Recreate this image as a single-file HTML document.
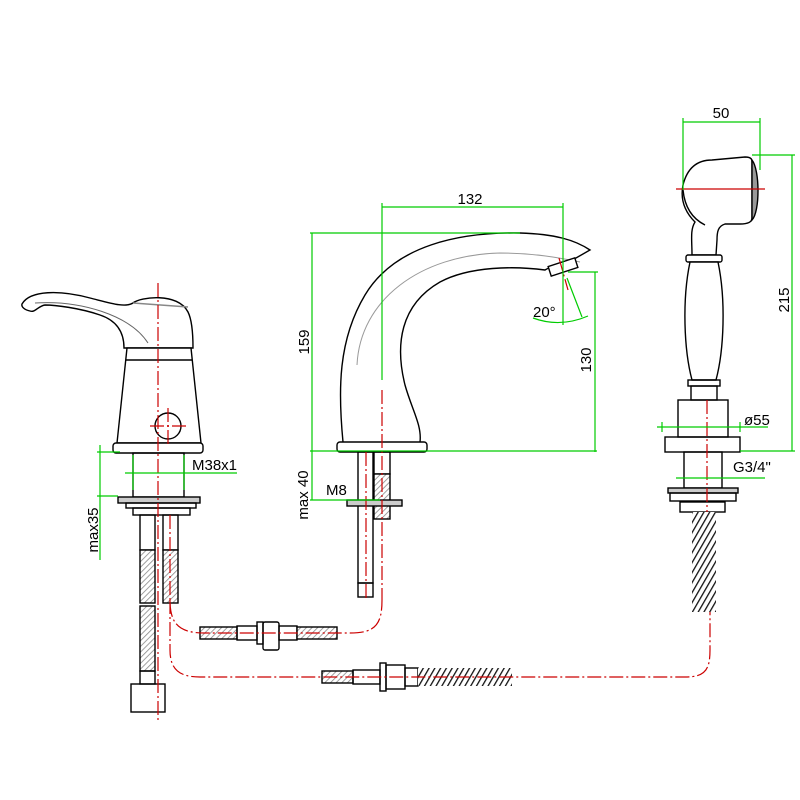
<!DOCTYPE html>
<html><head><meta charset="utf-8"><style>
html,body{margin:0;padding:0;background:#fff}
svg{display:block}
text{font-family:"Liberation Sans",sans-serif;font-size:15px;fill:#000}
</style></head><body>
<svg width="800" height="800" viewBox="0 0 800 800" xmlns="http://www.w3.org/2000/svg">
<defs>
<pattern id="h" width="4" height="4" patternUnits="userSpaceOnUse" patternTransform="rotate(45)">
<rect width="4" height="4" fill="#fff"/><line x1="0" y1="0" x2="0" y2="4" stroke="#888" stroke-width="1.6"/></pattern>
<pattern id="sp" width="5" height="5" patternUnits="userSpaceOnUse" patternTransform="rotate(30)">
<rect width="5" height="5" fill="#fff"/><line x1="0" y1="0" x2="0" y2="5" stroke="#111" stroke-width="2.6"/></pattern>
</defs>
<g fill="none" stroke="#000" stroke-width="1.4">
<!-- LEFT MIXER -->
<path d="M22,304 C30,290 60,290 90,298 C110,303 125,308 133,303 C140,297 178,292 188,312 C192,320 193,335 193,348 L124,348 C124,330 115,320 100,315 C80,308 55,305 45,305 C38,306 35,313 30,311 C25,310 21,307 22,304Z" fill="#fff"/>
<path d="M35,303 C80,300 130,315 148,343" stroke="#666" stroke-width="1"/>
<path d="M133,303 L188,307" stroke="#888"/>
<path d="M127,348 L117,443 L201,443 L191,348 Z" fill="#fff"/>
<line x1="126" y1="360" x2="192" y2="360"/>
<circle cx="168" cy="426" r="13"/>
<rect x="113" y="443" width="90" height="10" rx="3" fill="#fff"/>
<rect x="133" y="453" width="51" height="44"/>
<rect x="118" y="497" width="82" height="6" fill="#ccc"/>
<rect x="126" y="503" width="70" height="5"/>
<rect x="133" y="508" width="57" height="7"/>
<rect x="140" y="515" width="15" height="35"/>
<rect x="163" y="515" width="15" height="35"/>
<rect x="140" y="550" width="15" height="53" fill="url(#h)"/>
<rect x="163" y="550" width="15" height="53" fill="url(#h)"/>
<rect x="140" y="606" width="15" height="65" fill="url(#h)"/>
<rect x="140" y="671" width="15" height="13"/>
<rect x="131" y="684" width="34" height="28"/>
<!-- SPOUT -->
<path d="M343,442 C338,390 338,340 365,295 C395,245 460,232 520,233 C555,234 575,240 590,250 L576,258 C555,265 548,268 545,270 C515,266 470,266 440,282 C400,305 395,345 405,385 C412,410 422,425 420,442" fill="#fff"/>
<path d="M357,365 C360,300 420,255 500,253 C535,253 560,258 580,262" stroke="#999" stroke-width="1"/>
<rect x="549" y="262" width="28" height="10" transform="rotate(-18 563 267)" fill="#fff"/>
<rect x="337" y="442" width="90" height="10" rx="3" fill="#fff"/>
<rect x="358" y="452" width="15" height="131"/>
<rect x="358" y="583" width="15" height="14"/>
<rect x="374" y="452" width="16" height="22"/>
<rect x="374" y="474" width="16" height="45" fill="url(#h)"/>
<rect x="347" y="500" width="55" height="6" fill="#ccc"/>
<!-- HAND SHOWER -->
<path d="M692,255 C692,240 690,230 695,222 C685,212 680,200 683,185 C688,165 700,160 712,160 L745,157 C752,157 752,160 752,162 L752,218 C752,222 748,224 740,224 L725,224 C718,226 717,232 717,240 L716,255 Z" fill="#fff"/>
<path d="M752,160 C760,170 760,212 752,220 Z" fill="#999"/>
<path d="M683,190 C685,210 695,220 705,225"/>
<rect x="686" y="255" width="36" height="7" rx="2" fill="#fff"/>
<path d="M690,262 C682,300 684,350 692,380 L716,380 C724,350 726,300 718,262 Z" fill="#fff"/>
<rect x="688" y="380" width="32" height="6"/>
<rect x="691" y="386" width="26" height="14"/>
<rect x="678" y="400" width="50" height="37"/>
<rect x="665" y="437" width="75" height="15"/>
<rect x="684" y="452" width="38" height="36"/>
<rect x="668" y="488" width="70" height="5" fill="#ccc"/>
<rect x="670" y="493" width="66" height="8"/>
<rect x="680" y="502" width="45" height="10"/>
<rect x="692" y="512" width="24" height="100" fill="url(#sp)" stroke="none"/>
<!-- hoses -->
<rect x="200" y="627" width="37" height="12" fill="url(#h)"/>
<rect x="237" y="626" width="20" height="14"/>
<rect x="257" y="622" width="6" height="22"/>
<rect x="263" y="622" width="16" height="28" rx="2"/>
<rect x="279" y="626" width="18" height="14"/>
<rect x="297" y="627" width="40" height="12" fill="url(#h)"/>
<rect x="322" y="671" width="31" height="12" fill="url(#h)"/>
<rect x="353" y="670" width="27" height="14"/>
<rect x="380" y="663" width="6" height="28"/>
<rect x="386" y="665" width="19" height="24"/>
<rect x="405" y="668" width="13" height="18"/>
<rect x="418" y="668" width="94" height="18" fill="url(#sp)" stroke="none"/>
</g>
<!-- red centerlines -->
<g fill="none" stroke="#c00" stroke-width="1.2" stroke-dasharray="14,3,2,3">
<line x1="158" y1="283" x2="158" y2="722"/>
<line x1="150" y1="426" x2="186" y2="426"/>
<line x1="168" y1="408" x2="168" y2="444"/>
<line x1="366" y1="452" x2="366" y2="600"/>
<line x1="382" y1="390" x2="382" y2="600"/>
<path d="M170,515 L170,600 C170,625 180,633 205,633 L350,633 C375,633 382,625 382,600"/>
<path d="M170,600 L170,650 C170,670 180,677 200,677 L685,677 C705,677 710,670 710,650 L710,612"/>
<line x1="707" y1="400" x2="707" y2="512"/>
<line x1="676" y1="189" x2="765" y2="189" stroke-dasharray="none"/>
<line x1="559" y1="258" x2="568" y2="290"/>
</g>
<!-- green dims -->
<g fill="none" stroke="#0c0" stroke-width="1.2">
<line x1="382" y1="207" x2="563" y2="207"/><line x1="382" y1="203" x2="382" y2="380"/><line x1="563" y1="203" x2="563" y2="272"/>
<line x1="310" y1="233" x2="520" y2="233"/><line x1="312" y1="233" x2="312" y2="500"/><line x1="310" y1="451" x2="597" y2="451"/>
<line x1="568" y1="272" x2="598" y2="272"/><line x1="595" y1="272" x2="595" y2="452"/>
<path d="M533,318 Q560,328 588,316"/><line x1="563" y1="272" x2="563" y2="325"/><line x1="567" y1="278" x2="582" y2="317"/>
<line x1="310" y1="500" x2="380" y2="500"/>
<line x1="683" y1="118" x2="683" y2="190"/><line x1="760" y1="118" x2="760" y2="170"/><line x1="683" y1="122" x2="760" y2="122"/>
<line x1="752" y1="155" x2="795" y2="155"/><line x1="740" y1="451" x2="795" y2="451"/><line x1="792" y1="155" x2="792" y2="451"/>
<line x1="657" y1="427" x2="768" y2="427"/><line x1="662" y1="422" x2="662" y2="432"/><line x1="740" y1="422" x2="740" y2="432"/>
<line x1="676" y1="478" x2="765" y2="478"/>
<line x1="97" y1="452" x2="120" y2="452"/><line x1="97" y1="496" x2="118" y2="496"/><line x1="100" y1="445" x2="100" y2="560"/>
<line x1="125" y1="473" x2="237" y2="473"/><line x1="133" y1="455" x2="133" y2="490"/><line x1="184" y1="455" x2="184" y2="490"/>
</g>
<text x="470" y="204" text-anchor="middle">132</text>
<text transform="translate(309,342) rotate(-90)" text-anchor="middle">159</text>
<text transform="translate(591,360) rotate(-90)" text-anchor="middle">130</text>
<text x="533" y="317">20°</text>
<text transform="translate(308,495) rotate(-90)" text-anchor="middle">max 40</text>
<text x="326" y="495">M8</text>
<text x="721" y="118" text-anchor="middle">50</text>
<text transform="translate(789,300) rotate(-90)" text-anchor="middle">215</text>
<text x="744" y="425">ø55</text>
<text x="733" y="472">G3/4"</text>
<text x="192" y="470">M38x1</text>
<text transform="translate(98,530) rotate(-90)" text-anchor="middle">max35</text>
</svg>
</body></html>
